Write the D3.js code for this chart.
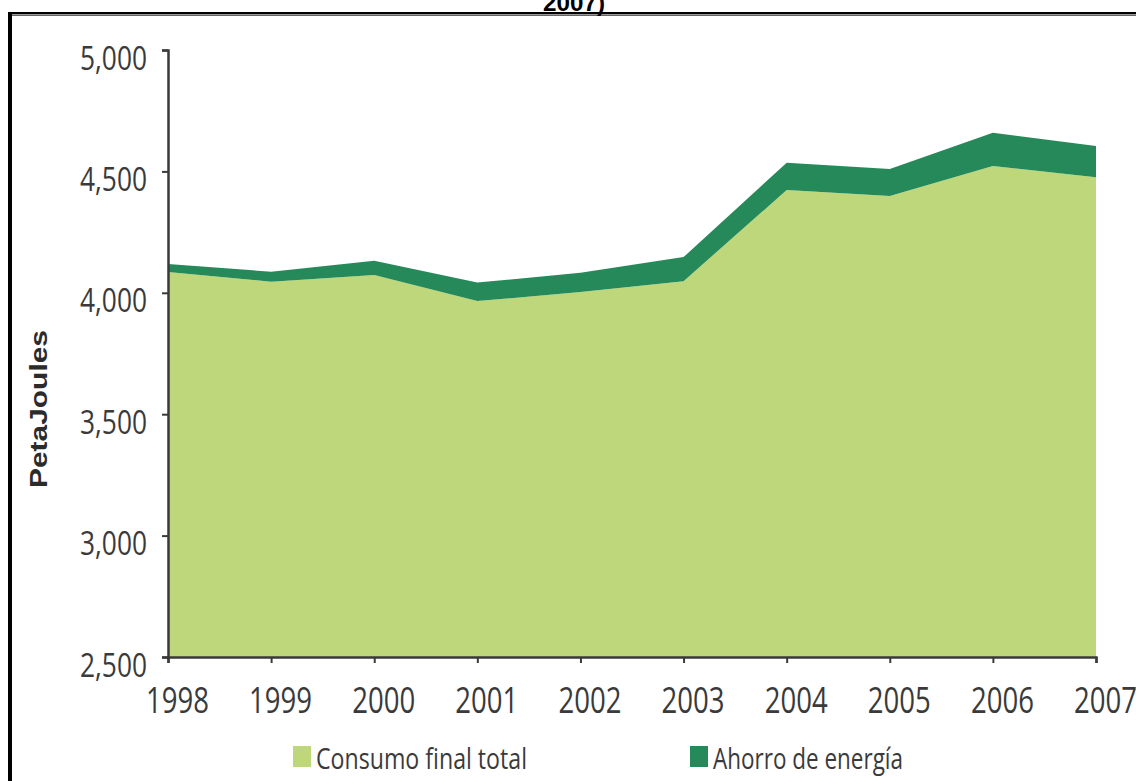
<!DOCTYPE html>
<html>
<head>
<meta charset="utf-8">
<script src="https://cdn.jsdelivr.net/npm/d3@7"></script>
<style>
  html, body { margin: 0; padding: 0; background: #fff; }
  svg { display: block; }
</style>
</head>
<body>
<script>
// Consumo final de energía y ahorro de energía, 1998–2007 (PetaJoules)
const years = [1998, 1999, 2000, 2001, 2002, 2003, 2004, 2005, 2006, 2007];
const consumoFinal = [4086, 4046, 4073, 3966, 4003, 4048, 4423, 4399, 4522, 4476];
const ahorroEnergia = [33, 41, 59, 76, 80, 99, 113, 111, 137, 129];
const yTicks = [2500, 3000, 3500, 4000, 4500, 5000];
const seriesKeys = ["consumo", "ahorro"];
const seriesNames = ["Consumo final total", "Ahorro de energía"];
const seriesColors = ["#bdd77a", "#26895a"];

const W = 1136, H = 781;
const svg = d3.select("body").append("svg")
  .attr("width", W).attr("height", H);

const font = "'Open Sans', 'Noto Sans', sans-serif";
const textColor = "#3a3a3a";

// page frame and the tail of the wrapped title above it
svg.append("text")
  .attr("x", 574).attr("y", 10.5)
  .attr("text-anchor", "middle")
  .attr("font-family", "'Liberation Sans', Arial, sans-serif")
  .attr("font-weight", "bold")
  .attr("font-size", 24)
  .attr("textLength", 62).attr("lengthAdjust", "spacingAndGlyphs")
  .attr("fill", "#000")
  .text("2007)");
svg.append("rect").attr("x", 8).attr("y", 12).attr("width", W - 8).attr("height", 2).attr("fill", "#000");
svg.append("rect").attr("x", 8).attr("y", 14.6).attr("width", W - 8).attr("height", 1).attr("fill", "#000");
svg.append("rect").attr("x", 8).attr("y", 12).attr("width", 4).attr("height", H - 12).attr("fill", "#000");

// scales
const x = d3.scalePoint().domain(years).range([168, 1096]);
const y = d3.scaleLinear().domain([2500, 5000]).range([657, 50]).clamp(true);

const table = years.map((yr, i) => ({ year: yr, consumo: consumoFinal[i], ahorro: ahorroEnergia[i] }));
const stacked = d3.stack().keys(seriesKeys)(table);

const area = d3.area()
  .x(d => x(d.data.year))
  .y0(d => y(d[0]))
  .y1(d => y(d[1]));

svg.append("g").selectAll("path")
  .data(stacked)
  .join("path")
  .attr("d", area)
  .attr("fill", (d, i) => seriesColors[i]);

// y axis
const yAxis = d3.axisLeft(y).tickValues(yTicks).tickFormat(d3.format(",")).tickSize(6).tickPadding(0);
const gy = svg.append("g").attr("transform", "translate(168,0)").call(yAxis);
gy.select(".domain").attr("stroke", "#3a3a3a").attr("stroke-width", 2.5);
gy.selectAll(".tick line").attr("stroke", "#3a3a3a").attr("stroke-width", 2);
gy.selectAll(".tick text")
  .attr("x", -21).attr("y", 19).attr("dy", 0)
  .attr("font-family", font).attr("font-size", 32)
  .attr("fill", textColor)
  .attr("textLength", 67).attr("lengthAdjust", "spacingAndGlyphs");

// x axis
const xAxis = d3.axisBottom(x).tickSize(6).tickPadding(0).tickFormat(d3.format("d"));
const gx = svg.append("g").attr("transform", "translate(0,657)").call(xAxis);
gx.select(".domain").attr("stroke", "#3a3a3a").attr("stroke-width", 2.5);
gx.selectAll(".tick line").attr("stroke", "#3a3a3a").attr("stroke-width", 2);
gx.selectAll(".tick text")
  .attr("x", 9).attr("y", 56).attr("dy", 0)
  .attr("font-family", font).attr("font-size", 37)
  .attr("fill", textColor)
  .attr("textLength", 63).attr("lengthAdjust", "spacingAndGlyphs");

// y axis title
svg.append("text")
  .attr("transform", "translate(47,409) rotate(-90)")
  .attr("text-anchor", "middle")
  .attr("font-family", "'Liberation Sans', Arial, sans-serif")
  .attr("font-weight", "bold")
  .attr("font-size", 23)
  .attr("textLength", 158).attr("lengthAdjust", "spacingAndGlyphs")
  .attr("fill", "#2b2b2b")
  .text("PetaJoules");

// legend
const legendItems = [
  { sx: 293, tx: 316, len: 211 },
  { sx: 690, tx: 713, len: 190 }
];
const lg = svg.append("g").selectAll("g")
  .data(seriesNames)
  .join("g");
lg.append("rect")
  .attr("x", (d, i) => legendItems[i].sx).attr("y", 746)
  .attr("width", 18).attr("height", 21)
  .attr("fill", (d, i) => seriesColors[i]);
lg.append("text")
  .attr("x", (d, i) => legendItems[i].tx).attr("y", 769)
  .attr("font-family", font).attr("font-size", 29)
  .attr("fill", textColor)
  .attr("textLength", (d, i) => legendItems[i].len).attr("lengthAdjust", "spacingAndGlyphs")
  .text(d => d);
</script>
</body>
</html>
